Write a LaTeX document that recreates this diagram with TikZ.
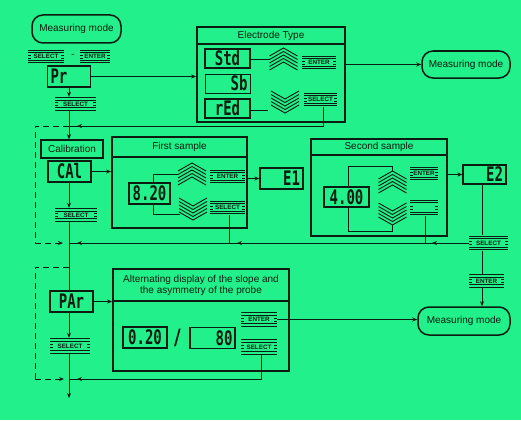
\documentclass[tikz,border=0pt]{standalone}
\usepackage{fontspec}
\setmainfont{Liberation Sans}
\newfontfamily\segfont{DejaVu Sans Mono}[FakeStretch=0.7]
\usetikzlibrary{arrows.meta,calc}
\definecolor{bg}{RGB}{34,240,138}
\definecolor{ink}{RGB}{12,28,16}
\begin{document}
\begin{tikzpicture}[x=1pt,y=-1pt,
  lbl/.style={font=\fontsize{10}{11}\selectfont, text=ink, inner sep=0},
  disp/.style={draw=ink, line width=1.3, inner sep=0, text=ink,
    font=\segfont\bfseries\fontsize{20}{20}\selectfont},
  mmode/.style={draw=ink, line width=1.5, rounded corners=11, inner sep=0,
    font=\fontsize{10}{11}\selectfont, text=ink},
  panel/.style={draw=ink, line width=1.8, inner sep=0},
  titlebox/.style={draw=ink, line width=1.5, inner sep=0, font=\fontsize{10}{11}\selectfont, text=ink},
  conn/.style={draw=ink, line width=0.9},
  arr/.style={conn, -{Stealth[length=5pt,width=4pt]}},
  dsh/.style={conn, dash pattern=on 6pt off 4pt},
  badge/.style={inner sep=0, minimum height=14, text=ink,
    font=\fontsize{6.3}{7}\selectfont\bfseries,
    path picture={
      \foreach \d in {0.7,3.2}{
        \draw[ink,line width=1.1] ([yshift=-\d pt]path picture bounding box.north west) -- ([yshift=-\d pt]path picture bounding box.north east);
        \draw[ink,line width=1.1] ([yshift=\d pt]path picture bounding box.south west) -- ([yshift=\d pt]path picture bounding box.south east);
      }
      \foreach \s in {-1.3,1.3}{
        \draw[ink,line width=0.6] ([yshift=\s pt,xshift=0.3pt]path picture bounding box.west) -- ++(2.5,0);
        \draw[ink,line width=0.6] ([yshift=\s pt,xshift=-0.3pt]path picture bounding box.east) -- ++(-2.5,0);
      }
    }},
  chevup/.pic={\foreach \k in {0,...,4}{\draw[ink,line width=0.9] (-14,8+3.5*\k) -- (0,3.5*\k) -- (14,8+3.5*\k);}},
  chevdn/.pic={\foreach \k in {0,...,4}{\draw[ink,line width=0.9] (-14,-8-3.5*\k) -- (0,-3.5*\k) -- (14,-8-3.5*\k);}}
]
\fill[bg] (0,0) rectangle (521,420);
\useasboundingbox (0,0) rectangle (521,420);

% ---------- top left ----------
\node[mmode, minimum width=89, minimum height=28] (mm1) at (76.5,29) {Measuring mode};
\node[badge, minimum width=36] (sel0) at (46,56.5) {SELECT};
\node[lbl] (dash0) at (73,56) {-};
\node[badge, minimum width=30] (ent0) at (95,56.5) {ENTER};
\node[disp, minimum width=43, minimum height=21, text width=37, align=left] (pr) at (69,76.5) {Pr};
\node[badge, minimum width=41] (sel1) at (75.5,104) {SELECT};
\coordinate (mx) at (69,0);

% ---------- Electrode type ----------
\node[panel, minimum width=148, minimum height=95] (et) at (271,74.5) {};
\draw[ink, line width=1.8] (197,44) -- (345,44);
\node[lbl] (ett) at (271,35.5) {Electrode Type};
\node[disp, minimum width=45, minimum height=19] (std) at (227.5,58.5) {Std};
\node[disp, minimum width=45, minimum height=19, line width=0.9, text width=40, align=right] (sb) at (227.5,83.5) {Sb};
\node[disp, minimum width=45, minimum height=19] (red) at (227.5,108.5) {rEd};
\pic at (283.5,48) {chevup};
\pic at (285,113) {chevdn};
\coordinate (cu1) at (270,59);
\coordinate (cd1) at (268,110);
\draw[conn] (std.east |- cu1) -- (cu1);
\draw[conn] (red.east |- cd1) -- (cd1);
\node[badge, minimum width=34] (entET) at (319,62.5) {ENTER};
\node[badge, minimum width=33] (selET) at (320.5,99.5) {SELECT};
\node[mmode, minimum width=88, minimum height=27] (mm2) at (466,64.5) {Measuring mode};
\draw[arr] (et.east |- mm2.west) -- (mm2.west);
\draw[arr] (pr.east) -- (pr.east -| et.west);
\draw[arr] (pr.south) -- (pr.south |- sel1.north);

% junction of the electrode SELECT return
\coordinate (j1) at (69,126);
\draw[conn] ([xshift=2.5pt]selET.south) |- (j1);
\draw[arr] ([xshift=2.5pt]selET.south) |- ([xshift=8pt]j1);

% ---------- Calibration ----------
\node[titlebox, minimum width=62, minimum height=18] (cal) at (72,149) {Calibration};
\draw[arr] (mx |- sel1.south) -- (mx |- cal.north);
\node[disp, minimum width=43, minimum height=21] (cai) at (69.5,171.5) {CAl};
\node[badge, minimum width=42] (sel2) at (76,215) {SELECT};
\draw[arr] (mx |- cai.south) -- (mx |- sel2.north);

% dashed skip loop 1
\coordinate (jM) at (69,243);
\coordinate (dl2) at (35,243);
\draw[dsh] (j1) -| (dl2);
\draw[dsh, -{Stealth[length=5pt,width=4pt]}] (dl2) -- ([xshift=-6pt]jM);

% ---------- First sample ----------
\node[panel, minimum width=135, minimum height=91] (fs) at (179.5,182.5) {};
\draw[ink, line width=1.8] (112,157) -- (247,157);
\node[lbl] (fst) at (179.5,147) {First sample};
\draw[arr] (cai.east) -- (cai.east -| fs.west);
\node[disp, minimum width=41, minimum height=21] (d820) at (149.5,193.5) {8.20};
\pic at (192,163) {chevup};
\pic at (193,220) {chevdn};
\coordinate (bt1) at (178,174);
\coordinate (bb1) at (180,214);
\draw[conn] ([xshift=3.5pt]d820.north) |- (bt1);
\draw[conn] ([xshift=3.5pt]d820.south) |- (bb1);
\node[badge, minimum width=35] (entFS) at (227.5,176.5) {ENTER};
\node[badge, minimum width=35] (selFS) at (227.5,207.5) {SELECT};
\node[disp, minimum width=43, minimum height=21, text width=37, align=right] (e1) at (281.5,178.5) {E1};
\draw[arr] (fs.east |- e1.west) -- (e1.west);

% ---------- Second sample ----------
\node[panel, minimum width=136, minimum height=97] (ss) at (379,187.5) {};
\draw[ink, line width=1.8] (311,155) -- (447,155);
\node[lbl] (sst) at (379,147) {Second sample};
\node[disp, minimum width=45, minimum height=20] (d400) at (346.5,197) {4.00};
\pic at (392.5,171) {chevup};
\pic at (392.5,225) {chevdn};
\coordinate (ct2) at (392.5,171);
\coordinate (cb2) at (392.5,225);
\draw[conn] ([xshift=1.5pt]d400.north) |- ($(ct2)+(0,-5)$) -- (ct2);
\draw[conn] ([xshift=1.5pt]d400.south) |- ($(cb2)+(0,6)$) -- (cb2);
\node[badge, minimum width=28] (entSS) at (424,173.5) {ENTER};
\node[badge, minimum width=28, minimum height=16] (blankSS) at (424,207.5) {};
\node[disp, minimum width=43, minimum height=19, text width=37, align=right] (e2) at (484.5,174.5) {E2};
\draw[arr] (ss.east |- e2.west) -- (e2.west);
\coordinate (ex) at (482,0);
\node[badge, minimum width=39, minimum height=15] (selE2) at (488.5,243) {SELECT};
\draw[conn] (ex |- e2.south) -- (ex |- selE2.north);
\node[badge, minimum width=35] (entE2) at (486.5,281) {ENTER};
\draw[conn] (ex |- selE2.south) -- (ex |- entE2.north);
\node[mmode, minimum width=92, minimum height=28] (mm3) at (464,321) {Measuring mode};
\draw[arr] (ex |- entE2.south) -- (ex |- mm3.north);

% return line at y=243
\coordinate (jSS) at (425,243);
\coordinate (jFS) at (229,243);
\draw[conn] ([xshift=1pt]blankSS.south) -- (jSS);
\draw[conn] ([xshift=1.5pt]selFS.south) -- (jFS);
\draw[conn] (selE2.west) -- (jM);
\draw[arr] (selE2.west) -- ([xshift=7pt]jSS);
\draw[arr] (jSS) -- ([xshift=8pt]jFS);
\draw[arr] (jFS) -- ([xshift=8pt]jM);

% ---------- PAr and alternating display ----------
\node[disp, minimum width=43, minimum height=21] (par) at (71.5,301.5) {PAr};
\draw[conn] (mx |- sel2.south) -- (mx |- par.north);
\node[panel, minimum width=176, minimum height=102] (alt) at (201,320) {};
\draw[ink, line width=1.8] (113,301) -- (289,301);
\node[lbl, align=center] (altt) at (201,285.5) {Alternating display of the slope and\\the asymmetry of the probe};
\draw[arr] (par.east) -- (par.east -| alt.west);
\node[disp, minimum width=44, minimum height=21] (d020) at (145,337.5) {0.20};
\node[text=ink, inner sep=0, font=\fontsize{24}{24}\selectfont] (slash) at (177.5,338) {/};
\node[disp, minimum width=45, minimum height=21, text width=40, align=right] (d80) at (212.5,338) {80};
\node[badge, minimum width=36, minimum height=15] (entAlt) at (259,319.5) {ENTER};
\node[badge, minimum width=36, minimum height=16] (selAlt) at (259,347) {SELECT};
\draw[arr] (entAlt.east) -- (entAlt.east -| mm3.west);
\node[badge, minimum width=40, minimum height=16] (selPAr) at (70,346) {SELECT};
\draw[arr] (mx |- par.south) -- (mx |- selPAr.north);

% return from SELECT of alternating display
\coordinate (jM2) at (69,379);
\draw[conn] ([xshift=2pt]selAlt.south) |- (jM2);
\draw[arr] ([xshift=2pt]selAlt.south) |- ([xshift=8pt]jM2);

% dashed skip loop 2
\coordinate (j2) at (69,267);
\coordinate (dl3) at (35,379);
\draw[dsh] (j2) -| (dl3);
\draw[dsh, -{Stealth[length=5pt,width=4pt]}] (dl3) -- ([xshift=-5pt]jM2);

% exit
\coordinate (endb) at (69,398);
\draw[arr] (mx |- selPAr.south) -- (endb);
\end{tikzpicture}
\end{document}
